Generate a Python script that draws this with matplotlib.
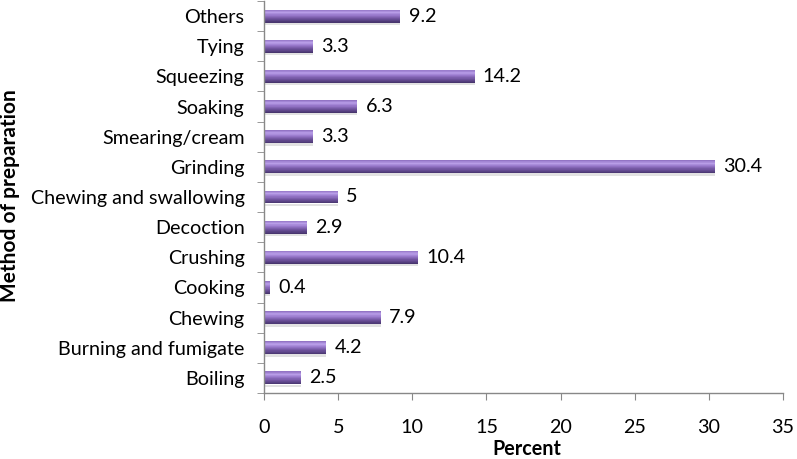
import matplotlib
matplotlib.use("Agg")
import matplotlib.pyplot as plt
import matplotlib.colors as mcolors
import numpy as np

categories = ["Boiling", "Burning and fumigate", "Chewing", "Cooking", "Crushing",
              "Decoction", "Chewing and swallowing", "Grinding", "Smearing/cream",
              "Soaking", "Squeezing", "Tying", "Others"]
values = [2.5, 4.2, 7.9, 0.4, 10.4, 2.9, 5, 30.4, 3.3, 6.3, 14.2, 3.3, 9.2]
value_labels = ["2.5", "4.2", "7.9", "0.4", "10.4", "2.9", "5", "30.4", "3.3", "6.3", "14.2", "3.3", "9.2"]
xticks = [0, 5, 10, 15, 20, 25, 30, 35]

plt.rcParams['font.family'] = ['Lato', 'DejaVu Sans']
FS = 14.2

fig = plt.figure(figsize=(7.97, 4.59), dpi=100)
ax = fig.add_axes([264/797, 1 - 393/459, (783-264)/797, 392/459])

y = np.arange(len(categories))
h = 0.43
# vertical shading profile (top -> bottom)
shade = mcolors.LinearSegmentedColormap.from_list(
    "bar", [(0.0, "#8F70C2"), (0.22, "#B99EE8"), (0.45, "#9575C8"),
            (0.7, "#6E529C"), (0.88, "#564080"), (1.0, "#45336A")])
# soft shadow under bar
ax.barh(y - h*0.6, values, height=h*0.18, color="#E2E2E2", edgecolor="none", zorder=1)
n = 24
for k in range(n):
    t = (k + 0.5) / n
    ax.barh(y + h/2 - (k + 0.5) * h / n, values, height=h / n * 1.05,
            color=shade(t), edgecolor="none", zorder=2)

for yi, v, lab in zip(y, values, value_labels):
    ax.text(v + 0.55, yi, lab, va="center", ha="left", fontsize=FS, color="black")

ax.set_xlim(0, 35)
ax.set_ylim(-0.5, len(categories) - 0.5)
ax.set_xticks(xticks)
ax.set_xticklabels([str(t) for t in xticks], fontsize=FS)
ax.set_yticks(y)
ax.set_yticklabels(categories, fontsize=FS)
ax.set_yticks(np.arange(len(categories) + 1) - 0.5, minor=True)
ax.tick_params(axis='y', which='major', length=0, pad=14)
ax.tick_params(axis='y', which='minor', length=5, color="#888888", direction="out")
ax.tick_params(axis='x', which='major', length=5, color="#888888", direction="out", pad=14)

for s in ["top", "right"]:
    ax.spines[s].set_visible(False)
for s in ["left", "bottom"]:
    ax.spines[s].set_color("#888888")
    ax.spines[s].set_linewidth(1.0)

ax.set_xlabel("Percent", fontsize=FS, fontweight="bold", va="center")
ax.xaxis.set_label_coords(0.507, -(449 - 393) / 392)
fig.text(10/797, 1 - 196/459, "Method of preparation", rotation=90, fontsize=15,
         fontweight="bold", ha="center", va="center")

fig.savefig("out.png", dpi=100)
